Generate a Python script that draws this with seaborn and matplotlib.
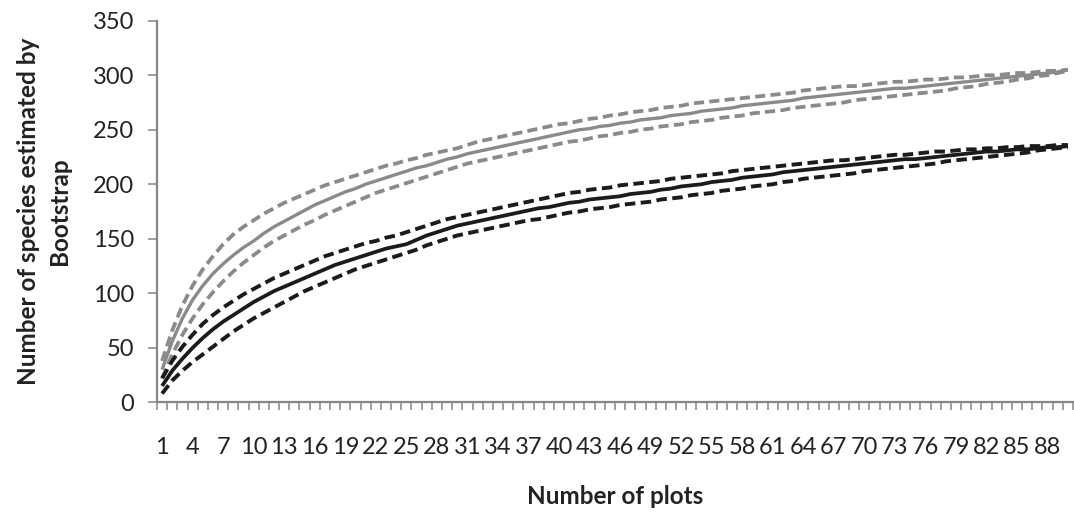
import matplotlib
matplotlib.use("Agg")
import matplotlib.pyplot as plt
from matplotlib.ticker import FixedLocator, NullFormatter
import numpy as np
import pandas as pd
import seaborn as sns

# Number of sampled plots (category axis)
plots = list(range(1, 91))
x_tick_labels = [str(v) for v in range(1, 89, 3)]

# Bootstrap species estimates, first community (grey)
grey_mean = [30, 56, 77, 94, 107, 118, 127, 135, 142, 148,
             155, 161, 166, 171, 176, 181, 185, 189, 193, 196,
             200, 203, 206, 209, 212, 215, 217, 220, 223, 225,
             228, 230, 232, 234, 236, 238, 240, 242, 244, 246,
             248, 250, 251, 253, 254, 256, 257, 259, 260, 261,
             263, 264, 265, 267, 268, 269, 270, 272, 273, 274,
             275, 276, 277, 279, 280, 281, 282, 283, 284, 285,
             286, 287, 288, 288, 289, 290, 291, 292, 293, 294,
             295, 296, 297, 298, 299, 300, 301, 302, 303, 305]
grey_upper = [38, 66, 89, 107, 122, 134, 145, 154, 161, 167,
              173, 178, 183, 187, 191, 195, 199, 202, 205, 208,
              211, 214, 217, 219, 222, 224, 227, 229, 231, 233,
              236, 239, 241, 243, 245, 247, 249, 251, 253, 255,
              256, 258, 260, 261, 263, 264, 266, 267, 268, 270,
              271, 272, 274, 275, 276, 277, 278, 279, 280, 281,
              282, 283, 284, 286, 287, 288, 289, 290, 290, 291,
              292, 293, 294, 294, 295, 296, 296, 297, 298, 298,
              299, 300, 300, 301, 302, 302, 303, 304, 304, 305]
grey_lower = [22, 44, 62, 77, 90, 101, 111, 120, 128, 135,
              142, 148, 153, 158, 163, 167, 172, 176, 180, 184,
              188, 192, 195, 198, 201, 204, 207, 210, 213, 216,
              219, 221, 223, 225, 227, 229, 231, 233, 235, 237,
              239, 240, 242, 244, 245, 247, 248, 250, 251, 253,
              254, 255, 257, 258, 259, 261, 262, 263, 265, 266,
              267, 268, 270, 271, 272, 273, 274, 275, 277, 278,
              279, 280, 281, 282, 283, 284, 285, 286, 288, 289,
              290, 292, 293, 294, 296, 297, 299, 300, 302, 304]

# Bootstrap species estimates, second community (black)
black_mean = [15, 29, 40, 50, 59, 67, 74, 80, 86, 92,
              97, 102, 106, 110, 114, 118, 122, 126, 129, 132,
              135, 138, 141, 143, 145, 149, 153, 156, 159, 162,
              164, 166, 168, 170, 172, 174, 176, 178, 179, 181,
              183, 184, 186, 187, 188, 189, 191, 192, 193, 195,
              196, 198, 199, 200, 202, 203, 204, 206, 207, 208,
              209, 211, 212, 213, 214, 215, 216, 217, 218, 219,
              220, 221, 222, 223, 223, 224, 225, 226, 227, 228,
              229, 230, 230, 231, 232, 232, 233, 234, 234, 235]
black_upper = [22, 38, 51, 62, 72, 80, 87, 93, 99, 104,
               109, 114, 118, 122, 126, 130, 134, 137, 140, 143,
               146, 148, 151, 153, 156, 159, 162, 165, 168, 170,
               172, 174, 176, 178, 180, 182, 184, 186, 188, 190,
               192, 193, 195, 196, 197, 199, 200, 201, 202, 203,
               205, 206, 207, 208, 209, 210, 212, 213, 214, 215,
               216, 217, 218, 219, 220, 221, 222, 222, 223, 224,
               225, 226, 227, 227, 228, 229, 230, 230, 231, 232,
               232, 233, 233, 234, 234, 235, 235, 235, 236, 236]
black_lower = [8, 20, 29, 37, 44, 51, 58, 65, 71, 77,
               82, 87, 92, 97, 102, 106, 110, 114, 118, 122,
               125, 128, 131, 134, 137, 140, 144, 147, 150, 153,
               155, 157, 159, 161, 163, 165, 167, 168, 170, 172,
               174, 175, 177, 178, 179, 181, 182, 183, 184, 186,
               187, 188, 190, 191, 192, 194, 195, 196, 198, 199,
               200, 202, 203, 205, 206, 207, 208, 209, 210, 212,
               213, 214, 215, 216, 217, 218, 219, 221, 222, 223,
               224, 225, 226, 227, 228, 229, 231, 232, 233, 234]

GREY = "#8a8a8c"
BLACK = "#1c1a1a"
AXIS = "#868686"
TEXT = "#222222"

sns.set_theme(style="white")
plt.rcParams["font.family"] = ["Lato", "DejaVu Sans"]

fig = plt.figure(figsize=(10.74, 5.15), dpi=100)
ax = fig.add_axes([157 / 1074, 1 - 402.3 / 515, (1073 - 157) / 1074, (402.3 - 20.7) / 515])

series = [
    (grey_upper, GREY, "dash", 2.7),
    (grey_lower, GREY, "dash", 2.7),
    (grey_mean, GREY, "solid", 2.4),
    (black_upper, BLACK, "dash", 2.8),
    (black_lower, BLACK, "dash", 2.8),
    (black_mean, BLACK, "solid", 2.7),
]
for values, color, style, lw in series:
    df = pd.DataFrame({"plots": plots, "species": values})
    line_ax = sns.lineplot(data=df, x="plots", y="species", ax=ax,
                           color=color, linewidth=lw)
    line = line_ax.get_lines()[-1]
    line.set_solid_capstyle("butt")
    line.set_solid_joinstyle("round")
    if style == "dash":
        line.set_dashes((2.7, 1.4))
        line.set_dash_capstyle("butt")

ax.set_xlim(0.5, 90.5)
ax.set_ylim(0, 350)
ax.set_yticks(np.arange(0, 351, 50))
ax.xaxis.set_major_locator(FixedLocator([int(v) for v in x_tick_labels]))
ax.set_xticklabels(x_tick_labels)
ax.xaxis.set_minor_locator(FixedLocator(np.arange(0.5, 91, 1)))
ax.xaxis.set_minor_formatter(NullFormatter())

for side in ("top", "right"):
    ax.spines[side].set_visible(False)
for side in ("left", "bottom"):
    ax.spines[side].set_color(AXIS)
    ax.spines[side].set_linewidth(1.6)

ax.tick_params(axis="x", which="major", length=0, pad=25, labelsize=17,
               labelcolor=TEXT)
ax.tick_params(axis="x", which="minor", length=6, width=1.1, color=AXIS,
               direction="out", bottom=True)
ax.tick_params(axis="y", which="major", length=6.5, width=1.1, color=AXIS,
               direction="out", left=True, pad=10, labelsize=17,
               labelcolor=TEXT)
ax.set_xlabel("")
ax.set_ylabel("")
ax.grid(False)

fig.text(615 / 1074, 1 - 497 / 515, "Number of plots", ha="center", va="center",
         fontsize=17.5, fontweight="bold", color=TEXT)
fig.text(44 / 1074, 1 - 211 / 515, "Number of species estimated by\nBootstrap",
         ha="center", va="center", rotation=90, multialignment="center",
         fontsize=17.5, fontweight="bold", color=TEXT, linespacing=1.4)

fig.savefig("out.png", dpi=100, facecolor="white")
